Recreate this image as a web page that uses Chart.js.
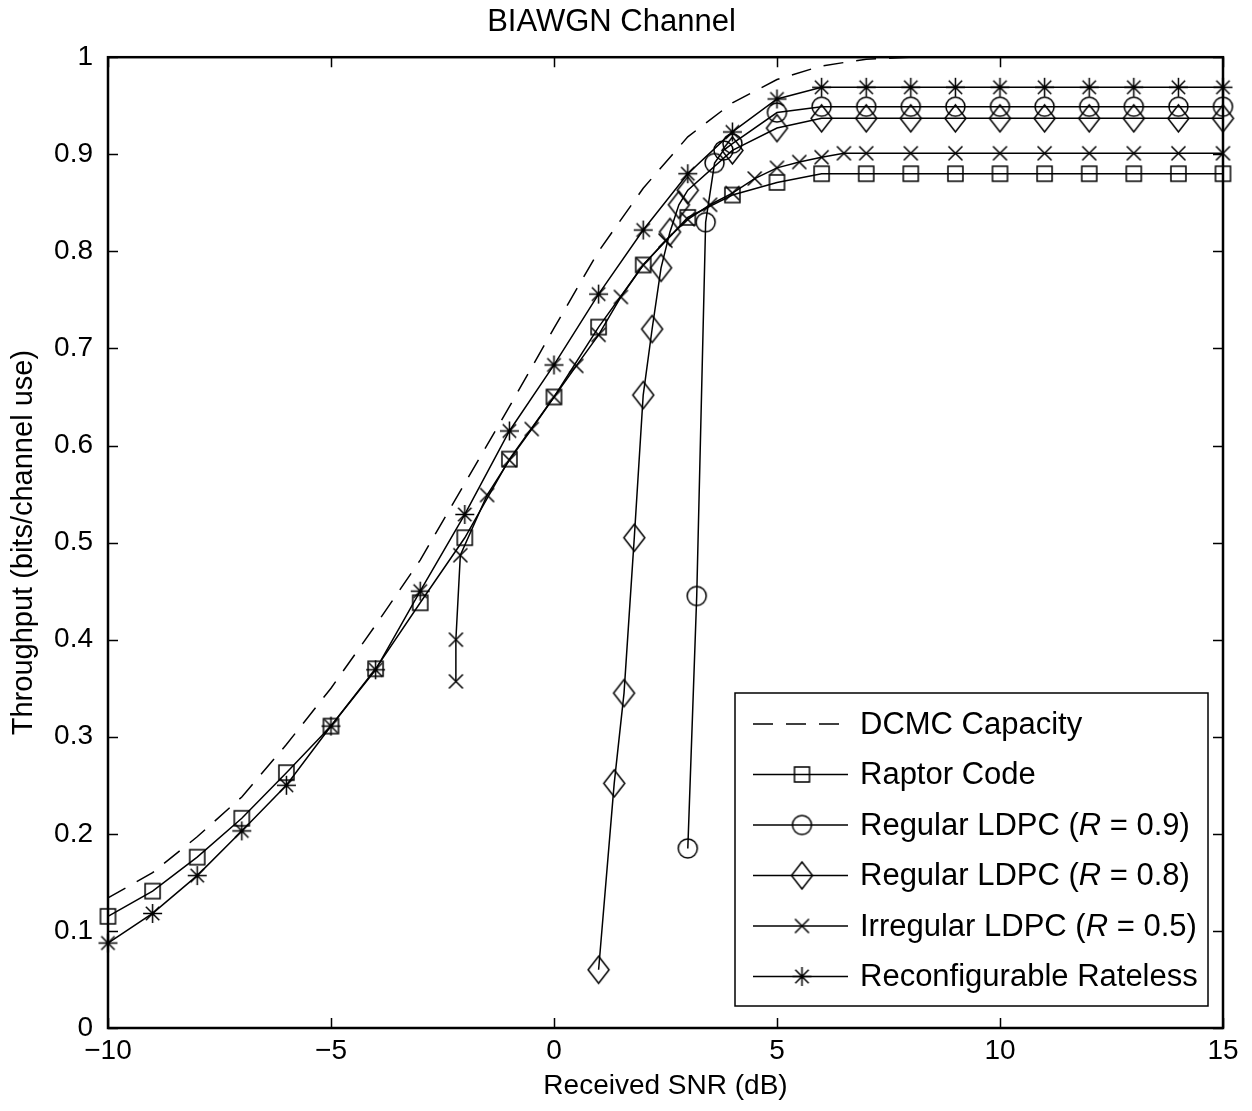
<!DOCTYPE html>
<html>
<head>
<meta charset="utf-8">
<title>BIAWGN Channel</title>
<script src="https://cdn.jsdelivr.net/npm/chart.js@4.4.1/dist/chart.umd.min.js"></script>
<style>
  html, body { margin: 0; padding: 0; background: #fff; }
</style>
</head>
<body>
<canvas id="chart" width="1252" height="1111"></canvas>
<script>
// values
var snr = [-10, -9, -8, -7, -6, -5, -4, -3, -2, -1, 0, 1, 2, 3, 4, 5, 6, 7, 8, 9, 10, 11, 12, 13, 14, 15];
var dcmcCapacity = [0.134, 0.160, 0.197, 0.238, 0.292, 0.350, 0.415, 0.482, 0.561, 0.640, 0.721, 0.800, 0.865, 0.918, 0.953, 0.977, 0.991, 0.998, 1, 1, 1, 1, 1, 1, 1, 1];
var raptorCode = [0.115, 0.141, 0.176, 0.216, 0.263, 0.311, 0.370, 0.438, 0.505, 0.586, 0.650, 0.722, 0.786, 0.835, 0.858, 0.871, 0.880, 0.880, 0.880, 0.880, 0.880, 0.880, 0.880, 0.880, 0.880, 0.880];
var rateless = [0.0875, 0.118, 0.157, 0.203, 0.250, 0.311, 0.369, 0.450, 0.529, 0.615, 0.683, 0.756, 0.822, 0.880, 0.923, 0.957, 0.969, 0.969, 0.969, 0.969, 0.969, 0.969, 0.969, 0.969, 0.969, 0.969];

var ldpc09Snr = [3.0, 3.2, 3.4, 3.6, 3.8, 4, 5, 6, 7, 8, 9, 10, 11, 12, 13, 14, 15];
var ldpc09 = [0.185, 0.445, 0.830, 0.891, 0.904, 0.911, 0.943, 0.949, 0.949, 0.949, 0.949, 0.949, 0.949, 0.949, 0.949, 0.949, 0.949];

var ldpc08Snr = [1.0, 1.35, 1.57, 1.8, 2.0, 2.2, 2.4, 2.6, 2.8, 3.0, 4, 5, 6, 7, 8, 9, 10, 11, 12, 13, 14, 15];
var ldpc08 = [0.060, 0.252, 0.345, 0.505, 0.652, 0.720, 0.783, 0.820, 0.848, 0.863, 0.904, 0.927, 0.937, 0.937, 0.937, 0.937, 0.937, 0.937, 0.937, 0.937, 0.937, 0.937];

var irregSnr = [-2.2, -2.2, -2.1, -1.5, -1, -0.5, 0, 0.5, 1, 1.5, 2, 2.5, 3, 3.5, 4, 4.5, 5, 5.5, 6, 6.5, 7, 8, 9, 10, 11, 12, 13, 14, 15];
var irreg = [0.357, 0.400, 0.487, 0.549, 0.585, 0.617, 0.650, 0.682, 0.714, 0.753, 0.786, 0.811, 0.833, 0.848, 0.860, 0.875, 0.886, 0.892, 0.897, 0.901, 0.901, 0.901, 0.901, 0.901, 0.901, 0.901, 0.901, 0.901, 0.901];

var xTicks = [-10, -5, 0, 5, 10, 15];
var yTicks = [0, 0.1, 0.2, 0.3, 0.4, 0.5, 0.6, 0.7, 0.8, 0.9, 1];
var seriesNames = ['DCMC Capacity', 'Raptor Code', 'Regular LDPC (R = 0.9)', 'Regular LDPC (R = 0.8)', 'Irregular LDPC (R = 0.5)', 'Reconfigurable Rateless'];

var fontName = '"Liberation Sans", Arial, Helvetica, sans-serif';
var legendFont = 31;

function toPoints(xs, ys) {
  var pts = [];
  for (var i = 0; i < ys.length; i++) {
    pts.push({x: xs[i], y: ys[i]});
  }
  return pts;
}

// hollow matlab-like markers drawn on small canvases
function makeMarker(kind) {
  var c = document.createElement('canvas');
  var w = 21, h = 21;
  if (kind == 'circle') { w = 23; h = 23; }
  if (kind == 'diamond') { w = 25; h = 31; }
  c.width = w; c.height = h;
  var g = c.getContext('2d');
  var cx = w / 2, cy = h / 2;
  g.strokeStyle = '#000';
  g.lineWidth = 1.5;
  g.beginPath();
  if (kind == 'square') {
    g.rect(cx - 7.5, cy - 7.5, 15, 15);
  } else if (kind == 'circle') {
    g.arc(cx, cy, 9.5, 0, Math.PI * 2);
  } else if (kind == 'diamond') {
    g.moveTo(cx, cy - 13.5);
    g.lineTo(cx + 10.5, cy);
    g.lineTo(cx, cy + 13.5);
    g.lineTo(cx - 10.5, cy);
    g.closePath();
  } else if (kind == 'x') {
    g.moveTo(cx - 7, cy - 7); g.lineTo(cx + 7, cy + 7);
    g.moveTo(cx + 7, cy - 7); g.lineTo(cx - 7, cy + 7);
  } else if (kind == 'star') {
    g.moveTo(cx, cy - 9.5); g.lineTo(cx, cy + 9.5);
    g.moveTo(cx - 9.5, cy); g.lineTo(cx + 9.5, cy);
    g.moveTo(cx - 6.7, cy - 6.7); g.lineTo(cx + 6.7, cy + 6.7);
    g.moveTo(cx + 6.7, cy - 6.7); g.lineTo(cx - 6.7, cy + 6.7);
  }
  g.stroke();
  return c;
}

function series(label, pts, marker, dash) {
  return {
    label: label,
    data: pts,
    showLine: true,
    borderColor: '#000',
    borderWidth: 1.5,
    borderDash: dash || [],
    backgroundColor: 'rgba(0,0,0,0)',
    pointStyle: marker ? makeMarker(marker) : false,
    pointRadius: marker ? 9 : 0,
    tension: 0,
    clip: false
  };
}

// box, inward ticks on all four sides
var frameTicks = {
  id: 'frameTicks',
  afterDatasetsDraw: function(chart) {
    var ctx = chart.ctx, a = chart.chartArea;
    var xs = chart.scales.x, ys = chart.scales.y;
    ctx.save();
    ctx.strokeStyle = '#000';
    ctx.lineWidth = 1.5;
    ctx.beginPath();
    xTicks.forEach(function(v) {
      var px = Math.round(xs.getPixelForValue(v)) + 0.5;
      ctx.moveTo(px, a.bottom); ctx.lineTo(px, a.bottom - 10);
      ctx.moveTo(px, a.top); ctx.lineTo(px, a.top + 10);
    });
    yTicks.forEach(function(v) {
      var py = Math.round(ys.getPixelForValue(v)) + 0.5;
      ctx.moveTo(a.left, py); ctx.lineTo(a.left + 10, py);
      ctx.moveTo(a.right, py); ctx.lineTo(a.right - 10, py);
    });
    ctx.stroke();
    ctx.lineWidth = 2.5;
    ctx.strokeRect(a.left, a.top, a.right - a.left, a.bottom - a.top);
    ctx.restore();
  }
};

function drawLabel(ctx, text, x, y) {
  var m = text.match(/^(.*\()R( = .*)$/);
  var plain = legendFont + 'px ' + fontName;
  ctx.font = plain;
  if (!m) { ctx.fillText(text, x, y); return; }
  ctx.fillText(m[1], x, y);
  x += ctx.measureText(m[1]).width;
  ctx.font = 'italic ' + plain;
  ctx.fillText('R', x, y);
  x += ctx.measureText('R').width;
  ctx.font = plain;
  ctx.fillText(m[2], x, y);
}

var boxLegend = {
  id: 'boxLegend',
  afterDraw: function(chart) {
    var ctx = chart.ctx, a = chart.chartArea;
    var w = 473, h = 313;
    var right = a.right - 15, bottom = a.bottom - 22;
    var left = right - w, top = bottom - h;
    ctx.save();
    ctx.fillStyle = '#fff';
    ctx.fillRect(left, top, w, h);
    ctx.strokeStyle = '#000';
    ctx.lineWidth = 1.5;
    ctx.strokeRect(left, top, w, h);
    chart.data.datasets.forEach(function(ds, i) {
      var y = top + 31 + i * 50.5;
      ctx.setLineDash(ds.borderDash);
      ctx.beginPath();
      ctx.moveTo(left + 18, y);
      ctx.lineTo(left + 113, y);
      ctx.stroke();
      ctx.setLineDash([]);
      if (ds.pointStyle) {
        var mk = ds.pointStyle;
        ctx.drawImage(mk, left + 67 - mk.width / 2, y - mk.height / 2);
      }
      ctx.fillStyle = '#000';
      ctx.textBaseline = 'middle';
      drawLabel(ctx, ds.label, left + 125, y + 1);
    });
    ctx.restore();
  }
};

Chart.defaults.color = '#000';
Chart.defaults.font.family = fontName;

var chart = new Chart(document.getElementById('chart'), {
  type: 'scatter',
  data: {
    datasets: [
      series(seriesNames[0], toPoints(snr, dcmcCapacity), null, [20, 13]),
      series(seriesNames[1], toPoints(snr, raptorCode), 'square'),
      series(seriesNames[2], toPoints(ldpc09Snr, ldpc09), 'circle'),
      series(seriesNames[3], toPoints(ldpc08Snr, ldpc08), 'diamond'),
      series(seriesNames[4], toPoints(irregSnr, irreg), 'x'),
      series(seriesNames[5], toPoints(snr, rateless), 'star')
    ]
  },
  options: {
    responsive: false,
    animation: false,
    layout: { padding: { left: 0, right: 29, top: 0, bottom: 0 } },
    plugins: {
      legend: { display: false },
      tooltip: { enabled: false },
      title: {
        display: true,
        text: 'BIAWGN Channel',
        font: { size: 31, weight: 'normal' },
        padding: { top: 4, bottom: 16 }
      }
    },
    scales: {
      x: {
        type: 'linear',
        min: -10,
        max: 15,
        grid: { display: false, drawTicks: false },
        border: { display: false },
        afterBuildTicks: function(scale) {
          scale.ticks = xTicks.map(function(v) { return {value: v}; });
        },
        afterFit: function(scale) { scale.height = 83; },
        ticks: {
          padding: 6,
          maxRotation: 0,
          font: { size: 28 },
          callback: function(v) { return String(v).replace('-', '\u2212'); }
        },
        title: {
          display: true,
          text: 'Received SNR (dB)',
          font: { size: 28 },
          padding: { top: 0, bottom: 8 }
        }
      },
      y: {
        type: 'linear',
        min: 0,
        max: 1,
        grid: { display: false, drawTicks: false },
        border: { display: false },
        afterBuildTicks: function(scale) {
          scale.ticks = yTicks.map(function(v) { return {value: v}; });
        },
        afterFit: function(scale) { scale.width = 108; },
        ticks: {
          padding: 15,
          font: { size: 28 },
          callback: function(v) { return (v == 0 || v == 1) ? String(v) : v.toFixed(1); }
        },
        title: {
          display: true,
          text: 'Throughput (bits/channel use)',
          font: { size: 29 },
          padding: { top: 7, bottom: 0 }
        }
      }
    }
  },
  plugins: [frameTicks, boxLegend]
});
</script>
</body>
</html>
